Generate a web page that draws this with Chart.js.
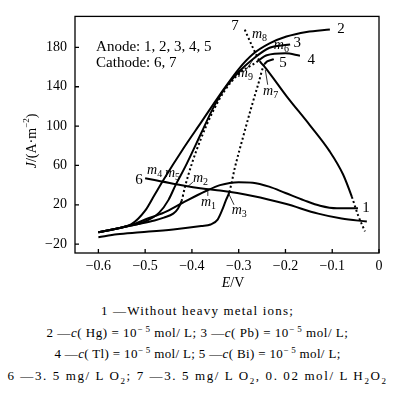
<!DOCTYPE html>
<html lang="en">
<head>
<meta charset="UTF-8">
<title>Polarization curves</title>
<script src="https://cdn.jsdelivr.net/npm/chart.js"></script>
<style>
  body { margin: 0; background: #fff; }
  #wrap { position: absolute; left: 0; top: 0; width: 395px; height: 298px; }
  .cap { position: absolute; left: 0; width: 395px; text-align: center; white-space: nowrap;
         font-family: "Liberation Serif", serif; font-size: 13px; line-height: 16px; color: #000; }
  .cap span { display: inline-block; }
  sup, sub { font-size: 9px; line-height: 0; }
</style>
</head>
<body>
<div id="wrap"><canvas id="chart"></canvas></div>
<div class="cap" style="top:303px"><span data-w="193">1 —Without heavy metal ions;</span></div>
<div class="cap" style="top:325px"><span data-w="302">2 —<i>c</i>( Hg) = 10<sup>− 5</sup> mol/ L; 3 —<i>c</i>( Pb) = 10<sup>− 5</sup> mol/ L;</span></div>
<div class="cap" style="top:346px"><span data-w="286">4 —<i>c</i>( Tl) = 10<sup>− 5</sup> mol/ L; 5 —<i>c</i>( Bi) = 10<sup>− 5</sup> mol/ L;</span></div>
<div class="cap" style="top:368px"><span data-w="380">6 —3. 5 mg/ L O<sub>2</sub>; 7 —3. 5 mg/ L O<sub>2</sub>, 0. 02 mol/ L H<sub>2</sub>O<sub>2</sub></span></div>
<script>
// axis ticks
const xTicks = [-0.6, -0.5, -0.4, -0.3, -0.2, -0.1, 0];
const yTicks = [-20, 20, 60, 100, 140, 180];

// anodic curves 1-5 (E in V, J in A/m2)
const c1E = [-0.6, -0.55, -0.52, -0.5, -0.46, -0.42, -0.37, -0.34, -0.3, -0.27, -0.235, -0.2, -0.16, -0.126, -0.09, -0.045];
const c1J = [-8, -3, 1, 5, 12, 22, 34, 40, 43, 42.5, 38.5, 32, 24.5, 19, 16.4, 16.4];
const c2E = [-0.6, -0.56, -0.53, -0.5, -0.48, -0.46, -0.42, -0.38, -0.34, -0.3, -0.27, -0.234, -0.198, -0.155, -0.105];
const c2J = [-8, -4, 0, 14, 30, 46, 76, 104, 132, 158, 173, 184, 191, 195.7, 198.3];
const c3E = [-0.6, -0.55, -0.5, -0.47, -0.45, -0.435, -0.415, -0.38, -0.355, -0.33, -0.3, -0.27, -0.234, -0.19];
const c3J = [-8, -3, 3, 12, 25, 40, 58, 93, 118, 138, 155, 168, 179.6, 183];
const c4E = [-0.6, -0.55, -0.52, -0.48, -0.46, -0.44, -0.43, -0.422, -0.415, -0.4, -0.38, -0.355, -0.33, -0.3, -0.262, -0.24, -0.2, -0.169];
const c4J = [-8, -3, 0, 4, 7, 11, 16, 24, 38, 62, 88, 115, 136, 153, 165, 172, 174, 171.6];
const c5E = [-0.6, -0.56, -0.51, -0.44, -0.38, -0.36, -0.345, -0.335, -0.327, -0.32, -0.308, -0.29, -0.273, -0.258, -0.245, -0.225];
const c5J = [-13, -10, -8, -5, -1.5, 0, 5, 15, 25, 33, 58, 90, 119, 143, 163, 168];
// cathodic curves 6, 7
const c6E = [-0.5, -0.44, -0.37, -0.34, -0.27, -0.2, -0.13, -0.08, -0.026];
const c6J = [47, 41.5, 36, 34.5, 29, 21, 11, 6, 3];
const c7E = [-0.287, -0.27, -0.255, -0.244, -0.197, -0.148, -0.105, -0.077, -0.058, -0.045, -0.03];
const c7J = [198, 180, 166, 160, 130, 101, 74, 51, 28, 9.6, -7];

// curve numbers and mixed-potential points, placed in data units
const numLabels = [
  ['1', -0.028, 16.4], ['2', -0.081, 199], ['3', -0.175, 184.5], ['4', -0.145, 167],
  ['5', -0.205, 164.2], ['6', -0.513, 45.4], ['7', -0.308, 201.8]
];
const mLabels = [
  ['1', -0.370, 22.2], ['2', -0.387, 47.3], ['3', -0.304, 14.5], ['4', -0.485, 55],
  ['5', -0.447, 52], ['6', -0.214, 182.5], ['7', -0.237, 135.2], ['8', -0.261, 193.2], ['9', -0.291, 153.6]
];
const leaders = [
  [-0.366, 29, -0.366, 35], [-0.398, 43, -0.409, 38.5], [-0.31, 20, -0.321, 31],
  [-0.238, 142, -0.243, 157], [-0.283, 158, -0.27, 167]
];

function pts(E, J) { return E.map((e, i) => ({ x: e, y: J[i] })); }
function dotted(ranges) {
  return { borderDash: ctx => ranges.some(r => ctx.p0DataIndex >= r[0] && ctx.p0DataIndex <= r[1]) ? [2, 2.5] : undefined };
}
function curve(E, J, ranges) {
  return {
    data: pts(E, J), borderColor: '#000', borderWidth: 2, pointRadius: 0, fill: false,
    cubicInterpolationMode: 'monotone', segment: dotted(ranges || [])
  };
}

const serif = '"Liberation Serif", "Times New Roman", serif';

const decor = {
  id: 'decor',
  afterDraw(chart) {
    const { ctx, chartArea: a, scales: { x, y } } = chart;
    ctx.save();
    ctx.strokeStyle = '#000';
    ctx.fillStyle = '#000';
    ctx.lineWidth = 1.3;
    ctx.strokeRect(a.left, a.top, a.right - a.left, a.bottom - a.top);
    ctx.beginPath();
    xTicks.forEach(v => { const p = x.getPixelForValue(v); ctx.moveTo(p, a.bottom); ctx.lineTo(p, a.bottom - 4); });
    yTicks.forEach(v => { const p = y.getPixelForValue(v); ctx.moveTo(a.left, p); ctx.lineTo(a.left + 4, p); });
    ctx.stroke();

    ctx.lineWidth = 0.8;
    ctx.beginPath();
    leaders.forEach(l => {
      ctx.moveTo(x.getPixelForValue(l[0]), y.getPixelForValue(l[1]));
      ctx.lineTo(x.getPixelForValue(l[2]), y.getPixelForValue(l[3]));
    });
    ctx.stroke();

    ctx.textBaseline = 'middle';
    ctx.textAlign = 'center';
    ctx.font = '15px ' + serif;
    numLabels.forEach(l => ctx.fillText(l[0], x.getPixelForValue(l[1]), y.getPixelForValue(l[2])));

    mLabels.forEach(l => {
      const px = x.getPixelForValue(l[1]), py = y.getPixelForValue(l[2]);
      ctx.textAlign = 'center';
      ctx.font = 'italic 14px ' + serif;
      ctx.fillText('m', px, py);
      ctx.textAlign = 'left';
      ctx.font = '10px ' + serif;
      ctx.fillText(l[0], px + 5, py + 4);
    });

    ctx.textAlign = 'left';
    ctx.font = '15px ' + serif;
    ctx.fillText('Anode: 1, 2, 3, 4, 5', x.getPixelForValue(-0.605), y.getPixelForValue(180.6));
    ctx.fillText('Cathode: 6, 7', x.getPixelForValue(-0.605), y.getPixelForValue(164.2));

    // x title: E/V
    ctx.textAlign = 'left';
    ctx.font = 'italic 14px ' + serif;
    const wE = ctx.measureText('E').width;
    ctx.font = '14px ' + serif;
    const wV = ctx.measureText('/V').width;
    let sx = (a.left + a.right) / 2 + 6 - (wE + wV) / 2;
    ctx.font = 'italic 14px ' + serif;
    ctx.fillText('E', sx, 283);
    ctx.font = '14px ' + serif;
    ctx.fillText('/V', sx + wE, 283);

    // y title: J/(A·m-2), rotated
    ctx.translate(32, 141);
    ctx.rotate(-Math.PI / 2);
    const parts = [['J', 'italic 14px ', 0], ['/(A\u00b7m', '14px ', 0], ['\u22122', '9px ', -5], [')', '14px ', 0]];
    let w = 0;
    parts.forEach(p => { ctx.font = p[1] + serif; w += ctx.measureText(p[0]).width; });
    let cx = -w / 2;
    parts.forEach(p => {
      ctx.font = p[1] + serif;
      ctx.fillText(p[0], cx, p[2]);
      cx += ctx.measureText(p[0]).width;
    });
    ctx.restore();
  }
};

new Chart(document.getElementById('chart'), {
  type: 'line',
  data: {
    datasets: [
      curve(c1E, c1J),
      curve(c2E, c2J),
      curve(c3E, c3J),
      curve(c4E, c4J, [[7, 13]]),
      curve(c5E, c5J, [[9, 13]]),
      curve(c6E, c6J),
      curve(c7E, c7J, [[0, 1], [8, 20]])
    ]
  },
  options: {
    responsive: true,
    maintainAspectRatio: false,
    devicePixelRatio: 1,
    animation: false,
    layout: { padding: { top: 4, right: 16, left: 0, bottom: 0 } },
    plugins: { legend: { display: false }, tooltip: { enabled: false } },
    scales: {
      x: {
        type: 'linear', min: -0.65, max: 0,
        afterBuildTicks: s => { s.ticks = xTicks.map(v => ({ value: v })); },
        afterFit: s => { s.height = 45; },
        grid: { display: false, drawTicks: false },
        border: { display: false },
        ticks: {
          padding: 5, color: '#000', maxRotation: 0, autoSkip: false,
          font: { family: serif, size: 14 },
          callback: v => v === 0 ? '0' : '\u2212' + Math.abs(v).toFixed(1)
        }
      },
      y: {
        type: 'linear', min: -29, max: 211.5,
        afterBuildTicks: s => { s.ticks = yTicks.map(v => ({ value: v })); },
        afterFit: s => { s.width = 75; },
        grid: { display: false, drawTicks: false },
        border: { display: false },
        ticks: {
          padding: 8, color: '#000', autoSkip: false,
          font: { family: serif, size: 14 },
          callback: v => v < 0 ? '\u2212' + Math.abs(v) : String(v)
        }
      }
    }
  },
  plugins: [decor]
});

// stretch caption lines to the printed widths
document.querySelectorAll('.cap span').forEach(s => {
  const target = +s.dataset.w;
  const n = s.textContent.length;
  const w = s.getBoundingClientRect().width;
  s.style.letterSpacing = ((target - w) / n).toFixed(2) + 'px';
});
</script>
</body>
</html>
